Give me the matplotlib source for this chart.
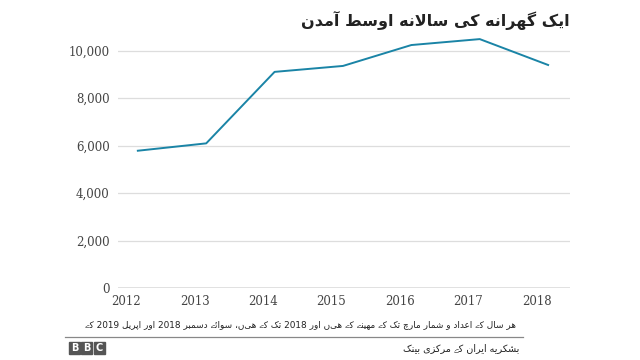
import matplotlib
matplotlib.use('Agg')
import matplotlib.pyplot as plt
import matplotlib.transforms as mtransforms
from matplotlib.patches import Rectangle
from matplotlib import font_manager
from matplotlib.ft2font import FT2Font

# data
years = [2012, 2013, 2014, 2015, 2016, 2017, 2018]
income = [5780, 6090, 9100, 9350, 10230, 10480, 9390]
y_ticks = [0, 2000, 4000, 6000, 8000, 10000]

title = 'ایک گھرانہ کی سالانہ اوسط آمدن'
note = 'ہر سال کے اعداد و شمار مارچ تک کے مہینے کے ہیں اور 2018 تک کے ہیں، سوائے دسمبر 2018 اور اپریل 2019 کے'
source = 'بشکریہ ایران کے مرکزی بینک'

# matplotlib has no arabic shaping, so pick presentation forms by hand
# letter: (isolated, final, initial, medial) ; 2 forms = joins only to the right
forms = {
    '\u0627': (0xFE8D, 0xFE8E), '\u0622': (0xFE81, 0xFE82),
    '\u062F': (0xFEA9, 0xFEAA), '\u0631': (0xFEAD, 0xFEAE),
    '\u0632': (0xFEAF, 0xFEB0), '\u0648': (0xFEED, 0xFEEE),
    '\u06D2': (0xFBAE, 0xFBAF),
    '\u0628': (0xFE8F, 0xFE90, 0xFE91, 0xFE92), '\u067E': (0xFB56, 0xFB57, 0xFB58, 0xFB59),
    '\u062A': (0xFE95, 0xFE96, 0xFE97, 0xFE98), '\u0686': (0xFB7A, 0xFB7B, 0xFB7C, 0xFB7D),
    '\u0633': (0xFEB1, 0xFEB2, 0xFEB3, 0xFEB4), '\u0634': (0xFEB5, 0xFEB6, 0xFEB7, 0xFEB8),
    '\u0637': (0xFEC1, 0xFEC2, 0xFEC3, 0xFEC4), '\u0639': (0xFEC9, 0xFECA, 0xFECB, 0xFECC),
    '\u0644': (0xFEDD, 0xFEDE, 0xFEDF, 0xFEE0), '\u0645': (0xFEE1, 0xFEE2, 0xFEE3, 0xFEE4),
    '\u0646': (0xFEE5, 0xFEE6, 0xFEE7, 0xFEE8), '\u0626': (0xFE89, 0xFE8A, 0xFE8B, 0xFE8C),
    '\u06A9': (0xFB8E, 0xFB8F, 0xFB90, 0xFB91), '\u06AF': (0xFB92, 0xFB93, 0xFB94, 0xFB95),
    '\u06BE': (0xFBAA, 0xFBAB, 0xFBAC, 0xFBAD), '\u06C1': (0xFBA6, 0xFBA7, 0xFBA8, 0xFBA9),
    '\u06CC': (0xFBFC, 0xFBFD, 0xFBFE, 0xFBFF),
}
# nearest shapes if the font lacks a form (heh goal -> heh, yeh barree -> yeh)
alt_forms = {'\u06C1': (0xFEE9, 0xFEEA, 0xFEEB, 0xFEEC),
             '\u06D2': (0xFBFC, 0xFBFD)}
lam_alef = {'\u0627': (0xFEFB, 0xFEFC), '\u0622': (0xFEF5, 0xFEF6)}
yeh_barree = {0x06D2, 0xFBAE, 0xFBAF}


def font_cmap(family, weight):
    path = font_manager.findfont(font_manager.FontProperties(family=family, weight=weight))
    return set(FT2Font(path).get_charmap().keys())


# DejaVu Sans lacks yeh barree: chain a family that has it, used only for that letter
families = ['DejaVu Sans']
for fe in font_manager.fontManager.ttflist:
    if fe.name in families:
        continue
    try:
        cm = FT2Font(fe.fname).get_charmap()
    except Exception:
        continue
    if 0x06D2 in cm and 0xFBAF in cm:
        families.append(fe.name)
        break


def shaping_cmap(weight):
    s = font_cmap('DejaVu Sans', weight)
    if len(families) > 1:
        s |= yeh_barree & font_cmap(families[1], weight)
    return s


def shape(text, cmap):
    # merge lam + alef first
    chars = []
    i = 0
    while i < len(text):
        c = text[i]
        if c == '\u0644' and i + 1 < len(text) and text[i + 1] in lam_alef:
            chars.append(('LA', text[i + 1]))
            i += 2
        else:
            chars.append((c, None))
            i += 1

    def dual(k):
        return 0 <= k < len(chars) and chars[k][0] in forms and len(forms[chars[k][0]]) == 4

    def joining(k):
        return 0 <= k < len(chars) and (chars[k][0] in forms or chars[k][0] == 'LA')

    out = []
    for k, (c, extra) in enumerate(chars):
        prev = dual(k - 1) and joining(k)
        if c == 'LA':
            out.append(chr(lam_alef[extra][1 if prev else 0]))
            continue
        if c not in forms:
            out.append(c)
            continue
        f = forms[c]
        nxt = len(f) == 4 and joining(k + 1)
        if prev and nxt:
            idx = 3
        elif nxt:
            idx = 2
        elif prev:
            idx = 1
        else:
            idx = 0
        cp = f[idx]
        if cp not in cmap and c in alt_forms:
            cp = alt_forms[c][idx]
        if cp not in cmap:
            cp = ord(c)
        out.append(chr(cp))
    s = ''.join(out)

    # right-to-left: reverse, but keep digit runs in order
    runs = []
    for ch in s:
        isd = ch.isdigit()
        if runs and runs[-1][0] == isd:
            runs[-1][1].append(ch)
        else:
            runs.append([isd, [ch]])
    res = ''
    for isd, r in reversed(runs):
        res += ''.join(r) if isd else ''.join(reversed(r))
    return res


cmap_reg = shaping_cmap('normal')
cmap_bold = shaping_cmap('bold')

fig = plt.figure(figsize=(6.4, 3.6), dpi=100)
ax = fig.add_axes([118 / 640, 1 - 288 / 360, 452 / 640, 261.25 / 360])

ax.plot(years, income, color='#1a84a6', linewidth=1.4, clip_on=False, zorder=3)

ax.set_xlim(2011.71, 2018.32)
ax.set_ylim(0, 11000)
ax.set_yticks(y_ticks)
ax.set_yticklabels(['{:,}'.format(v) for v in y_ticks])
ax.set_xticks(years)
ax.set_xticklabels([str(y) for y in years])

for v in y_ticks[1:]:
    ax.axhline(v, color='#dddddd', linewidth=0.9, zorder=1)
ax.axhline(0, color='#666666', linewidth=1.0, zorder=2)

for s in ax.spines.values():
    s.set_visible(False)
ax.tick_params(axis='both', length=0, labelsize=8.5, labelcolor='#444444')
ax.tick_params(axis='y', pad=6)
ax.tick_params(axis='x', pad=5)
for lab in ax.get_xticklabels() + ax.get_yticklabels():
    lab.set_fontfamily('DejaVu Serif')
shift = mtransforms.ScaledTranslation(-11.5 / 100, 0, fig.dpi_scale_trans)
for lab in ax.get_xticklabels():
    lab.set_transform(lab.get_transform() + shift)

fig.text(570 / 640, 1 - 20 / 360, shape(title, cmap_bold), ha='right', va='center',
         fontsize=11.5, fontweight='bold', color='#222222', family=families)
fig.text(516 / 640, 1 - 325 / 360, shape(note, cmap_reg), ha='right', va='center',
         fontsize=6.4, color='#222222', family=families)
fig.add_artist(plt.Line2D([65 / 640, 523 / 640], [1 - 337 / 360, 1 - 337 / 360],
                          color='#888888', linewidth=0.9))
fig.text(519 / 640, 1 - 348 / 360, shape(source, cmap_reg), ha='right', va='center',
         fontsize=6.9, color='#222222', family=families)

# BBC blocks
for i, letter in enumerate('BBC'):
    x0 = (69 + i * 12.3) / 640
    fig.add_artist(Rectangle((x0, 1 - 354 / 360), 11 / 640, 12 / 360,
                             transform=fig.transFigure, color='#555555'))
    fig.text(x0 + 5.5 / 640, 1 - 348 / 360, letter, ha='center', va='center',
             fontsize=7, fontweight='bold', color='white', family='DejaVu Sans')

fig.savefig('out.png', dpi=100)
